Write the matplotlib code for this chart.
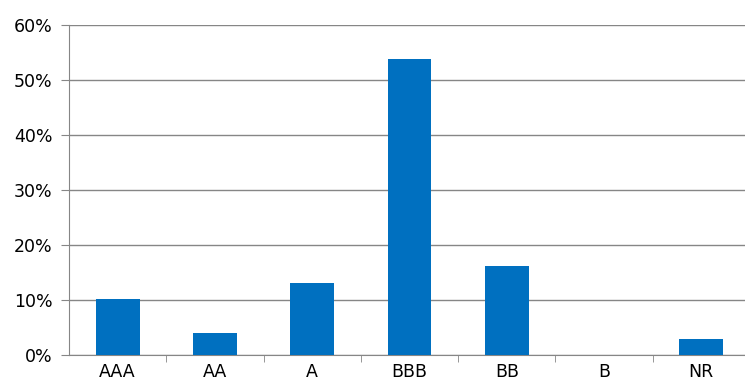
import matplotlib.pyplot as plt
from matplotlib.ticker import PercentFormatter

ratings = ['AAA', 'AA', 'A', 'BBB', 'BB', 'B', 'NR']
shares = [10.2, 4.0, 13.1, 53.9, 16.2, 0.0, 2.9]
yticks = [0, 10, 20, 30, 40, 50, 60]

fig = plt.figure(figsize=(7.45, 3.83), dpi=100)
ax = fig.add_axes([69 / 745, 28 / 383, 681 / 745, 330 / 383])

x = range(len(ratings))
ax.bar(x, shares, width=0.45, color='#0070C0', zorder=3)

ax.set_xlim(-0.5, len(ratings) - 0.5)
ax.set_ylim(0, 60)
ax.set_yticks(yticks)
ax.yaxis.set_major_formatter(PercentFormatter(decimals=0))
ax.yaxis.grid(True, color='#868686', linewidth=1)

ax.set_xticks(list(x))
ax.set_xticklabels(ratings)
ax.set_xticks([i + 0.5 for i in range(len(ratings) - 1)], minor=True)
ax.tick_params(labelsize=12.5, colors='black')
ax.tick_params(axis='x', which='major', length=0, pad=6)
ax.tick_params(axis='x', which='minor', length=5, color='#868686')
ax.tick_params(axis='y', length=6, color='#868686', pad=6)

for side in ['top', 'right']:
    ax.spines[side].set_visible(False)
for side in ['left', 'bottom']:
    ax.spines[side].set_color('#868686')

fig.savefig('out.png', dpi=100)
